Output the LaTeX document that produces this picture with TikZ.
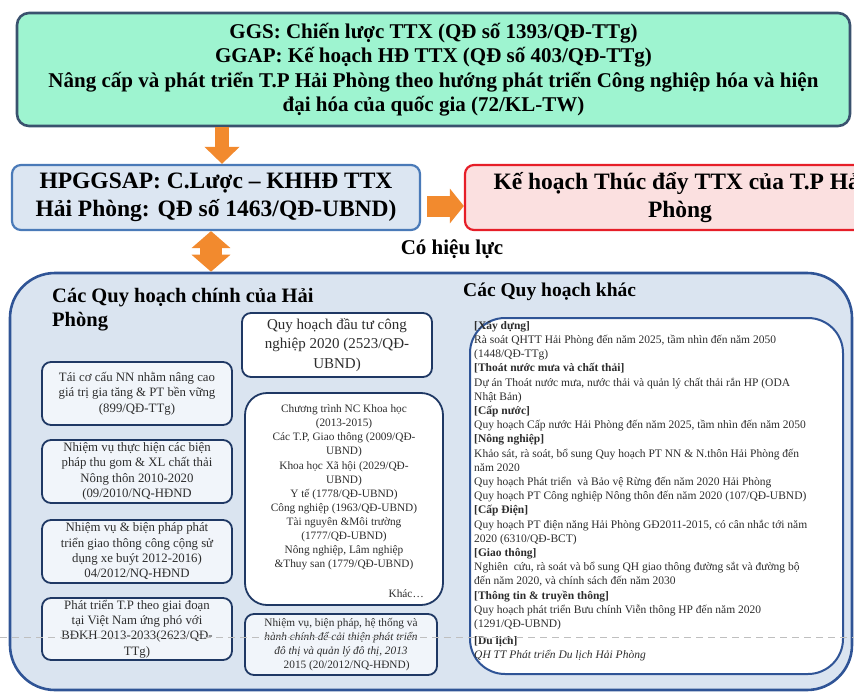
\documentclass[tikz,border=0pt]{standalone}
\usepackage{fontspec}
\setmainfont{Liberation Serif}
\usetikzlibrary{arrows.meta}

\definecolor{greenfill}{RGB}{158,244,208}
\definecolor{greenline}{RGB}{58,82,110}
\definecolor{hpfill}{RGB}{220,230,242}
\definecolor{hpline}{RGB}{74,122,184}
\definecolor{redfill}{RGB}{251,224,224}
\definecolor{redline}{RGB}{230,30,40}
\definecolor{orangeA}{RGB}{242,138,46}
\definecolor{outerfill}{RGB}{218,228,240}
\definecolor{outerline}{RGB}{47,84,150}
\definecolor{boxline}{RGB}{31,56,100}
\definecolor{boxfill}{RGB}{241,245,250}
\definecolor{txtgray}{RGB}{45,45,45}

\newcommand\fsz[2]{\fontsize{#1}{#2}\selectfont}

\tikzset{
  bigbox/.style={draw, inner sep=0pt, align=center},
  smallbox/.style={draw=boxline, line width=1.8pt, rounded corners=9pt,
    fill=boxfill, inner sep=0pt, align=center, text=txtgray,
    font=\fsz{12.8}{15.3}},
  midtext/.style={inner sep=0pt, align=center, text=txtgray},
}

\begin{document}
\begin{tikzpicture}[x=1pt,y=-1pt]
\useasboundingbox (0,0) rectangle (854,693);
\clip (0,0) rectangle (854,693);

% helper coordinates for the block arrows
\coordinate (ax) at (222,0);
\coordinate (ay) at (0,206);
\coordinate (dx) at (211,0);

% national level
\node[bigbox, draw=greenline, line width=2.6pt, fill=greenfill, rounded corners=12pt,
  minimum width=833pt, minimum height=113pt, font=\bfseries\fsz{21}{24.5}]
  (top) at (433.5,69.5)
  {GGS: Chiến lược TTX (QĐ số 1393/QĐ-TTg)\\
   GGAP: Kế hoạch HĐ TTX (QĐ số 403/QĐ-TTg)\\
   Nâng cấp và phát triển T.P Hải Phòng theo hướng phát triển Công nghiệp hóa và hiện\\
   đại hóa của quốc gia (72/KL-TW)};

% city strategy and action plan
\node[bigbox, draw=hpline, line width=2.2pt, fill=hpfill, rounded corners=9pt,
  minimum width=408pt, minimum height=65pt, font=\bfseries\fsz{23.5}{28}]
  (hp) at (216,197.5)
  {HPGGSAP: C.Lược – KHHĐ TTX\\Hải Phòng: QĐ số 1463/QĐ-UBND)};

\node[bigbox, draw=redline, line width=2.2pt, fill=redfill, rounded corners=9pt,
  minimum width=430pt, minimum height=65pt, font=\bfseries\fsz{23.5}{28}]
  (red) at (680,197.5)
  {Kế hoạch Thúc đẩy TTX của T.P Hải\\Phòng};

\node[font=\bfseries\fsz{21}{24}, inner sep=0pt] (valid) at (452,249) {Có hiệu lực};

% planning framework
\node[bigbox, draw=outerline, line width=2.6pt, fill=outerfill, rounded corners=45pt,
  minimum width=842pt, minimum height=417pt] (outer) at (431,481.5) {};

\node[font=\bfseries\fsz{20.5}{24}, inner sep=0pt, anchor=west] (tleft) at (52,298)
  {Các Quy hoạch chính của Hải};
\node[font=\bfseries\fsz{20.5}{24}, inner sep=0pt, anchor=west] (tleft2) at (52,322)
  {Phòng};
\node[font=\bfseries\fsz{19.5}{24}, inner sep=0pt, anchor=west] (tright) at (463,292)
  {Các Quy hoạch khác};

% left column
\node[smallbox, minimum width=190pt, minimum height=63pt] (l1) at (137,393.5)
  {Tái cơ cấu NN nhằm nâng cao\\giá trị gia tăng \& PT bền vững\\(899/QĐ-TTg)};
\node[smallbox, minimum width=190pt, minimum height=63pt] (l2) at (137,471.5)
  {Nhiệm vụ thực hiện các biện\\pháp thu gom \& XL chất thải\\Nông thôn 2010-2020\\(09/2010/NQ-HĐND};
\node[smallbox, minimum width=190pt, minimum height=63pt] (l3) at (137,551.5)
  {Nhiệm vụ \& biện pháp phát\\triển giao thông công cộng sử\\dụng xe buýt 2012-2016)\\04/2012/NQ-HĐND};
\node[smallbox, minimum width=190pt, minimum height=62pt] (l4) at (137,629)
  {Phát triển T.P theo giai đoạn\\tại Việt Nam ứng phó với\\BĐKH 2013-2033(2623/QĐ-\\TTg)};

% middle column
\node[smallbox, fill=white, minimum width=190pt, minimum height=64pt,
  font=\fsz{15}{19.5}] (m1) at (337,345)
  {Quy hoạch đầu tư công\\nghiệp 2020 (2523/QĐ-\\UBND)};
\node[smallbox, fill=white, rounded corners=22pt, minimum width=198pt,
  minimum height=212pt] (m2) at (344,499) {};
\node[midtext, font=\fsz{11.3}{14.1}] (m2t) at (344,487.5)
  {Chương trình NC Khoa học\\(2013-2015)\\Các T.P, Giao thông (2009/QĐ-\\UBND)\\
   Khoa học Xã hội (2029/QĐ-\\UBND)\\Y tế (1778/QĐ-UBND)\\Công nghiệp (1963/QĐ-UBND)\\
   Tài nguyên \&Môi trường\\(1777/QĐ-UBND)\\Nông nghiệp, Lâm nghiệp\\\&Thuy san (1779/QĐ-UBND)};
\node[midtext, font=\fsz{11.3}{14.1}, anchor=east] (m2k) at (424,594) {Khác…};
\node[smallbox, minimum width=192pt, minimum height=61pt,
  font=\fsz{11.3}{14}] (m3) at (341,644.5)
  {Nhiệm vụ, biện pháp, hệ thống và\\\textit{hành chính để cải thiện phát triển}\\
   \textit{đô thị và quản lý đô thị, 2013}\\\quad 2015 (20/2012/NQ-HĐND)};

% right panel
\node[draw=outerline, line width=2pt, fill=white, rounded corners=35pt, inner sep=0pt,
  minimum width=373pt, minimum height=356pt] (r) at (656.5,496) {};
\node[inner sep=0pt, anchor=north west, align=left, text=txtgray,
  font=\fsz{11.5}{14.2}] (rt) at (474,321)
  {\textbf{[Xây dựng]}\\
   Rà soát QHTT Hải Phòng đến năm 2025, tầm nhìn đến năm 2050\\
   (1448/QĐ-TTg)\\
   \textbf{[Thoát nước mưa và chất thải]}\\
   Dự án Thoát nước mưa, nước thải và quản lý chất thải rắn HP (ODA\\
   Nhật Bản)\\
   \textbf{[Cấp nước]}\\
   Quy hoạch Cấp nước Hải Phòng đến năm 2025, tầm nhìn đến năm 2050\\
   \textbf{[Nông nghiệp]}\\
   Khảo sát, rà soát, bổ sung Quy hoạch PT NN \& N.thôn Hải Phòng đến\\
   năm 2020\\
   Quy hoạch Phát triển\ \ và Bảo vệ Rừng đến năm 2020 Hải Phòng\\
   Quy hoạch PT Công nghiệp Nông thôn đến năm 2020 (107/QĐ-UBND)\\
   \textbf{[Cấp Điện]}\\
   Quy hoạch PT điện năng Hải Phòng GĐ2011-2015, có cân nhắc tới năm\\
   2020 (6310/QĐ-BCT)\\
   \textbf{[Giao thông]}\\
   Nghiên\ \ cứu, rà soát và bổ sung QH giao thông đường sắt và đường bộ\\
   đến năm 2020, và chính sách đến năm 2030\\
   \textbf{[Thông tin \& truyền thông]}\\
   Quy hoạch phát triển Bưu chính Viễn thông HP đến năm 2020\\
   (1291/QĐ-UBND)\\[3pt]
   \textbf{[Du lịch]}\\
   \textit{QH TT Phát triển Du lịch Hải Phòng}};

% block arrows between the levels
\draw[orangeA, line width=14pt, -{Triangle[width=34pt,length=17pt]}]
  (top.south -| ax) -- (hp.north -| ax);
\draw[orangeA, line width=21pt, shorten <=6pt, -{Triangle[width=34pt,length=14pt]}]
  (hp.east |- ay) -- (red.west |- ay);
\draw[orangeA, line width=22pt,
  {Triangle[width=38pt,length=17pt]}-{Triangle[width=38pt,length=17pt]}]
  (hp.south -| dx) -- (outer.north -| dx);

% faint scan line across the lower part
\draw[black!25, line width=1pt, dash pattern=on 7pt off 5pt]
  (0,637) -- (854,637);
\end{tikzpicture}
\end{document}
